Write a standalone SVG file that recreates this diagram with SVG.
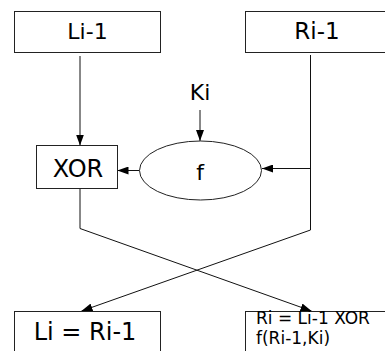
<svg xmlns="http://www.w3.org/2000/svg" width="385" height="351" viewBox="0 0 385 351">
<style>
.box{fill:#fff;stroke:#222;stroke-width:1}
.ln{fill:none;stroke:#111;stroke-width:1}
.t{font-family:"DejaVu Sans",sans-serif;fill:#000;text-anchor:middle;font-size:23px}
.sm{font-size:17px;text-anchor:start}
</style>
<defs>
<marker id="ah" markerWidth="11" markerHeight="8" refX="11" refY="4" orient="auto" markerUnits="userSpaceOnUse">
<path d="M0,0 L11,4 L0,8 Z" fill="#000"/>
</marker>
</defs>
<rect width="385" height="351" fill="#fff"/>
<g id="connectors">
<line class="ln" x1="80" y1="56" x2="80" y2="145.5" marker-end="url(#ah)"/>
<line class="ln" x1="200" y1="110" x2="200" y2="141" marker-end="url(#ah)"/>
<polyline class="ln" points="310.5,55 310.5,230 81.5,311" marker-end="url(#ah)"/>
<line class="ln" x1="310.5" y1="168.5" x2="262" y2="168.5" marker-end="url(#ah)"/>
<line class="ln" x1="139.5" y1="170.5" x2="117.5" y2="170.5" marker-end="url(#ah)"/>
<polyline class="ln" points="80,189 80,228.5 311.5,311" marker-end="url(#ah)"/>
</g>
<g id="node-Li1">
<rect class="box" x="14.5" y="11.5" width="146" height="41"/>
<text class="t" x="87.5" y="38.5" style="font-size:22px">Li-1</text>
</g>
<g id="node-Ri1">
<rect class="box" x="245.5" y="11.5" width="146" height="41"/>
<text class="t" x="317" y="38.5">Ri-1</text>
</g>
<g id="node-Ki">
<text class="t" x="200" y="100" style="font-size:22px">Ki</text>
</g>
<g id="node-f">
<ellipse class="box" cx="200.5" cy="170.5" rx="61" ry="29.5"/>
<text class="t" x="200" y="180" style="font-size:22px">f</text>
</g>
<g id="node-XOR">
<rect class="box" x="36.5" y="145.5" width="81" height="43"/>
<text class="t" x="78" y="177" style="font-size:24px">XOR</text>
</g>
<g id="node-Li">
<rect class="box" x="14.5" y="311.5" width="146" height="50"/>
<text class="t" x="85" y="340" style="font-size:24px">Li = Ri-1</text>
</g>
<g id="node-Ri">
<rect class="box" x="245.5" y="311.5" width="146" height="50"/>
<text class="t sm" x="256" y="323.5">Ri = Li-1 XOR</text>
<text class="t sm" x="256" y="343.5">f(Ri-1,Ki)</text>
</g>
</svg>
